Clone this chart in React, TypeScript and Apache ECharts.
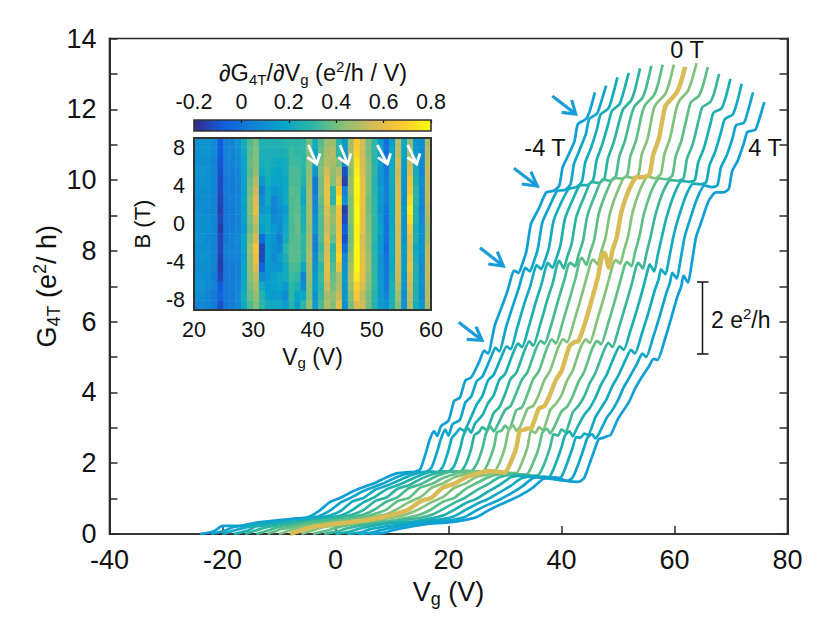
import React, { useEffect, useRef } from "react";
import * as echarts from "echarts";

// Gate voltage of the 0 T trace at each sampled point
const gateVoltage = [-8,-5.5,-4,-1,2,6,9,11,13,15,17,19,21,23,25,27,29,30,31,32,32.6,33.4,34,34.7,36,37,38,39,40,41.4,42.3,43,44.2,45.5,46.5,47.2,47.6,48.4,49,49.8,50.6,52,53.3,54.6,55.6,56.2,57.2,58.3,58.9,60.3,61,61.9];
// Horizontal display shift of each trace
const traceShift = [-16,-14,-12,-10,-8,-6,-4,-2,0,2,4,6,8,10,12,14];
const traceColors = ["#0f9fd4","#0fa4cb","#12aac0","#1cafb0","#2cb4a0","#45ba92","#5fbf87","#82c27c","#d9bc55","#82c27c","#5fbf87","#3db79a","#1cafb0","#12aac0","#0fa4cb","#0f9fd4"];

const g0 = [0,.08,.23,.23,.32,.39,.44,.47,.64,.9,1.03,1.2,1.33,1.44,1.6,1.72,1.75,1.76,1.83,2.3,2.63,2.91,2.77,3.05,3.2,3.76,3.85,4.34,4.42,4.85,5.18,5.1,5.9,6.45,6.9,7.3,7.44,7.38,7.6,8,8.76,9.2,9.65,9.7,9.84,10.36,10.7,11.1,11.58,11.72,11.95,12.48];
const g1 = [0,.1,.2,.25,.33,.38,.44,.5,.66,.9,1.05,1.22,1.34,1.47,1.62,1.72,1.74,1.75,1.88,2.33,2.66,2.95,2.78,3.1,3.22,3.72,3.88,4.32,4.45,4.95,5.26,5.16,5.85,6.5,6.98,7.38,7.52,7.42,7.65,8.05,8.8,9.3,9.7,9.72,9.88,10.45,10.85,11.3,11.72,11.88,12.2,12.67];
const g2 = [0,.12,.18,.27,.31,.4,.46,.52,.66,.92,1.02,1.25,1.36,1.5,1.64,1.74,1.76,1.74,1.9,2.36,2.72,2.86,2.98,2.92,3.3,3.66,3.9,4.34,4.5,5.02,5.3,5.22,5.85,6.55,7.02,7.45,7.6,7.48,7.7,8.1,8.85,9.38,9.75,9.8,9.95,10.5,10.9,11.45,11.85,12.02,12.35,12.9];
const g3 = [0,.1,.22,.25,.34,.38,.47,.52,.68,.9,1.05,1.26,1.38,1.52,1.66,1.76,1.74,1.76,1.92,2.38,2.76,3.0,2.86,3.12,3.36,3.7,3.92,4.36,4.52,5.1,5.38,5.28,5.85,6.58,7.08,7.52,7.66,7.52,7.75,8.15,8.9,9.45,9.85,9.86,10.0,10.55,11.0,11.6,11.95,12.15,12.5,13.03];
const g4 = [0,.13,.2,.26,.33,.41,.47,.55,.68,.93,1.03,1.28,1.38,1.55,1.68,1.77,1.76,1.75,1.95,2.4,2.8,2.88,3.02,2.94,3.42,3.58,3.95,4.38,4.55,5.16,5.44,5.32,5.9,6.62,7.12,7.6,7.72,7.5,7.82,8.2,8.95,9.52,9.95,9.92,10.05,10.6,11.05,11.7,12.0,12.25,12.55,13.16];
const g5 = [0,.12,.2,.25,.35,.4,.49,.55,.7,.91,1.04,1.3,1.4,1.57,1.7,1.78,1.74,1.76,1.98,2.42,2.82,3.04,2.9,3.08,3.5,3.62,3.98,4.36,4.58,5.2,5.46,5.38,5.92,6.65,7.18,7.6,7.66,7.56,7.88,8.28,9.0,9.6,10.02,9.98,10.1,10.65,11.1,11.8,12.08,12.32,12.62,13.23];
const g6 = [0,.14,.18,.28,.32,.42,.48,.57,.69,.93,1.02,1.31,1.41,1.58,1.69,1.79,1.76,1.74,2.0,2.43,2.88,2.92,3.06,2.96,3.5,3.58,3.96,4.38,4.6,5.24,5.5,5.38,5.98,6.68,7.24,7.72,7.8,7.6,7.92,8.32,9.05,9.68,10.06,10.04,10.12,10.68,11.12,11.92,12.14,12.38,12.66,13.26];
const g7 = [0,.13,.2,.26,.33,.39,.5,.56,.71,.9,1.04,1.3,1.43,1.6,1.7,1.77,1.77,1.75,2.0,2.45,2.9,3.08,2.92,3.04,3.54,3.62,3.94,4.36,4.62,5.26,5.5,5.42,6.0,6.7,7.28,7.68,7.75,7.62,7.96,8.38,9.08,9.72,10.1,10.06,10.15,10.72,11.14,12.0,12.18,12.42,12.7,13.26];
const g8 = [0,.14,.2,.27,.32,.4,.5,.58,.7,.92,1.03,1.31,1.42,1.6,1.7,1.78,1.75,1.73,2.02,2.44,2.91,2.95,2.98,3.0,3.55,3.62,3.95,4.35,4.6,5.3,5.42,5.45,5.98,6.7,7.3,7.9,7.95,7.53,8.0,8.4,9.1,9.75,10.08,10.08,10.17,10.7,11.15,12.05,12.2,12.45,12.7,13.2];
const g9 = [0,.13,.2,.25,.31,.41,.49,.58,.72,.9,1.04,1.3,1.43,1.62,1.68,1.76,1.72,1.72,2.02,2.46,2.92,2.86,3.02,2.94,3.5,3.68,3.92,4.34,4.62,5.28,5.5,5.4,5.98,6.68,7.26,7.66,7.74,7.64,7.98,8.42,9.1,9.76,10.1,10.05,10.18,10.72,11.18,12.0,12.25,12.5,12.78,13.3];
const g10 = [0,.1,.17,.27,.32,.38,.47,.55,.7,.91,1.02,1.27,1.44,1.6,1.69,1.72,1.68,1.7,2.02,2.45,2.86,2.98,2.84,3.02,3.46,3.6,3.9,4.3,4.58,5.22,5.46,5.36,5.92,6.62,7.2,7.6,7.68,7.56,7.95,8.42,9.05,9.72,10.05,10.02,10.12,10.66,11.1,11.85,12.2,12.38,12.65,13.19];
const g11 = [0,.08,.16,.25,.3,.39,.46,.54,.7,.88,1.03,1.24,1.41,1.6,1.67,1.68,1.65,1.68,2.0,2.46,2.82,2.78,2.96,2.88,3.44,3.62,3.88,4.26,4.55,5.14,5.4,5.28,5.85,6.55,7.1,7.55,7.66,7.5,7.9,8.42,9.0,9.68,10.0,9.98,10.05,10.6,11.0,11.7,12.05,12.2,12.45,13.0];
const g12 = [0,.07,.14,.24,.31,.36,.44,.52,.68,.87,1.0,1.2,1.38,1.6,1.65,1.62,1.58,1.64,2.0,2.45,2.78,2.9,2.76,2.98,3.36,3.56,3.85,4.22,4.5,5.04,5.3,5.2,5.75,6.42,6.98,7.42,7.62,7.42,7.85,8.42,8.95,9.62,9.98,9.95,10.0,10.5,10.9,11.55,11.9,12.02,12.3,12.86];
const g13 = [0,.05,.13,.22,.29,.36,.42,.5,.68,.85,.99,1.17,1.36,1.58,1.63,1.58,1.55,1.62,2.0,2.45,2.74,2.72,2.84,2.8,3.3,3.56,3.82,4.18,4.46,4.94,5.2,5.1,5.65,6.32,6.88,7.2,7.48,7.34,7.75,8.4,8.88,9.55,9.9,9.88,9.94,10.42,10.8,11.4,11.72,11.85,12.15,12.72];
const g14 = [0,.04,.11,.21,.3,.34,.41,.49,.67,.83,.97,1.14,1.34,1.58,1.62,1.54,1.5,1.6,1.98,2.44,2.72,2.82,2.7,2.86,3.28,3.5,3.78,4.14,4.42,4.82,5.1,5.0,5.55,6.22,6.78,7.1,7.38,7.22,7.68,8.4,8.82,9.48,9.85,9.8,9.85,10.35,10.68,11.2,11.55,11.62,11.95,12.48];
const g15 = [0,.03,.1,.2,.28,.33,.4,.48,.66,.82,.96,1.12,1.32,1.58,1.6,1.5,1.47,1.58,2.0,2.45,2.68,2.72,2.76,2.8,3.25,3.5,3.75,4.1,4.38,4.72,4.95,4.92,5.45,6.15,6.7,7.0,7.3,7.1,7.6,8.38,8.75,9.4,9.65,9.65,9.75,10.25,10.55,11.05,11.36,11.42,11.72,12.2];
const traces = [g0,g1,g2,g3,g4,g5,g6,g7,g9,g10,g11,g12,g13,g14,g15,g8];
const traceIndex = [0,1,2,3,4,5,6,7,9,10,11,12,13,14,15,8];

// Inset: dG/dVg per 1 V column (20..59) for each field row (-8.5 .. 8.5 T)
const heatVg = ["20","21","22","23","24","25","26","27","28","29","30","31","32","33","34","35","36","37","38","39","40","41","42","43","44","45","46","47","48","49","50","51","52","53","54","55","56","57","58","59"];
const heatB = ["-8.5","-7.5","-6.5","-5.5","-4.5","-3.5","-2.5","-1.5","-0.5","0.5","1.5","2.5","3.5","4.5","5.5","6.5","7.5","8.5"];
const heatRows = [
[.06,.08,.06,.03,-.1,.02,.04,.08,.2,.34,.42,.3,.22,.2,.2,.14,.28,.16,.3,.46,.14,.35,.5,.42,.6,.1,.4,.58,.55,.4,.28,.14,.1,.25,.42,.1,.5,.22,.12,.48],
[.1,.1,.06,.02,-.05,.02,.03,.08,.22,.38,.45,.28,.17,.14,.14,.08,.3,.18,.2,.42,.12,.32,.48,.44,.54,.12,.42,.66,.52,.4,.28,.15,.06,.24,.46,.1,.52,.25,.08,.5],
[.12,.12,.08,.05,-.07,.03,.04,.06,.2,.4,.48,.22,.14,.16,.18,.14,.3,.25,.1,.44,.16,.3,.54,.4,.5,.12,.46,.7,.56,.42,.3,.14,.03,.25,.5,.12,.55,.25,.1,.5],
[.1,.1,.08,.03,-.13,.03,.03,.05,.18,.42,.52,.08,.12,.16,.2,.22,.32,.3,.06,.46,.14,.32,.58,.38,.48,.14,.5,.76,.6,.44,.3,.12,.02,.22,.54,.14,.58,.25,.1,.52],
[.08,.1,.1,.05,-.15,.03,.03,.05,.18,.44,.58,-.05,.14,.12,.12,.2,.34,.34,.2,.48,.12,.3,.6,.35,.62,.12,.48,.8,.62,.46,.3,.12,.02,.2,.55,.16,.62,.25,.08,.52],
[.1,.12,.1,.06,-.14,.04,.05,.06,.16,.44,.62,-.12,.16,.07,.14,.25,.36,.36,.28,.5,.08,.35,.58,.32,.7,.08,.45,.8,.6,.46,.28,.12,0,.2,.56,.14,.6,.22,.1,.52],
[.1,.1,.1,.05,-.13,.05,.05,.06,.18,.46,.64,-.13,.15,.1,.07,.28,.36,.36,.3,.48,.04,.32,.56,.3,.68,-.02,.42,.8,.58,.44,.28,.14,-.02,.22,.56,.15,.58,.2,.12,.52],
[.12,.12,.08,.06,-.13,.03,.05,.08,.18,.42,.56,-.02,.15,.12,.04,.22,.35,.36,.3,.48,.05,.35,.58,.38,.64,-.1,.4,.78,.56,.44,.3,.15,0,.2,.56,.12,.6,.25,.1,.48],
[.1,.1,.1,.06,-.15,.03,.04,.06,.14,.38,.5,.15,.2,.14,.09,.2,.34,.38,.26,.46,.12,.35,.54,.42,.62,-.06,.4,.78,.6,.42,.3,.18,0,.2,.56,.12,.66,.22,.1,.46],
[.1,.1,.1,.06,-.13,.03,.03,.05,.16,.4,.54,.18,.2,.09,.1,.18,.34,.38,.24,.48,.1,.35,.55,.45,.62,-.12,.42,.8,.6,.42,.3,.15,0,.18,.58,.1,.72,.25,.08,.48],
[.1,.1,.08,.06,-.14,.03,.03,.06,.16,.42,.6,.12,.16,.06,.1,.15,.35,.36,.24,.48,.07,.36,.58,.42,.64,-.15,.42,.8,.62,.4,.3,.12,.02,.2,.58,.12,.76,.25,.06,.5],
[.08,.1,.1,.05,-.13,.03,.04,.06,.18,.42,.58,.08,.2,.06,.12,.2,.35,.36,.2,.48,.06,.38,.62,.28,.74,.1,.42,.78,.62,.4,.3,.14,.05,.2,.58,.1,.72,.28,.08,.52],
[.1,.1,.1,.06,-.12,.04,.03,.05,.15,.4,.54,.04,.2,.12,.15,.2,.36,.35,.22,.48,.02,.4,.62,.3,.68,.05,.45,.8,.62,.42,.28,.15,.05,.2,.56,.12,.66,.28,.08,.52],
[.1,.12,.1,.06,-.12,.03,.03,.06,.16,.38,.5,.12,.22,.18,.18,.2,.34,.34,.26,.46,.02,.4,.6,.42,.56,-.14,.45,.8,.6,.42,.28,.12,.04,.22,.56,.12,.64,.25,.1,.52],
[.12,.12,.1,.06,-.1,.05,.04,.06,.16,.36,.45,.2,.24,.2,.18,.22,.34,.34,.28,.44,.12,.42,.56,.45,.5,-.1,.42,.76,.58,.42,.3,.12,.02,.22,.54,.14,.58,.22,.06,.52],
[.1,.1,.1,.06,-.09,.05,.05,.08,.18,.38,.42,.24,.24,.22,.2,.22,.32,.32,.3,.42,.16,.4,.5,.48,.4,.08,.45,.74,.56,.42,.28,.15,0,.2,.56,.15,.54,.2,.08,.52],
[.1,.12,.12,.08,-.07,.06,.06,.1,.2,.36,.42,.25,.24,.24,.24,.25,.32,.3,.3,.42,.2,.38,.48,.5,.3,.12,.48,.7,.55,.4,.3,.14,0,.18,.52,.18,.48,.14,.08,.5],
[.1,.12,.12,.08,-.07,.06,.06,.12,.22,.35,.4,.26,.26,.25,.26,.28,.3,.28,.3,.4,.22,.36,.46,.46,.28,.14,.46,.68,.55,.4,.3,.16,0,.15,.5,.2,.44,.12,.1,.48],
];
const parula = ["#352a87","#0f5cdd","#1481d6","#06a4ca","#2eb7a4","#87bf77","#d1bb59","#fec832","#f9fb0e"];

const FONT = "'Liberation Sans', Arial, sans-serif";
const MAIN = 27;
const INSET = 21.5;
const INK = "#111";

function arrow(from: number[], tip: number[], b1: number[], b2: number[], color: string, width: number) {
  const shape = (points: number[][]) => ({
    type: "polyline", z: 20, shape: { points },
    style: { stroke: color, lineWidth: width, fill: "none" },
  });
  return [shape([from, tip]), shape([b1, tip, b2])];
}

function buildOption() {
  const lineSeries = traces.map((vals, k) => {
    const i = traceIndex[k];
    return {
      type: "line", xAxisIndex: 0, yAxisIndex: 0, showSymbol: false, silent: true,
      smooth: 0.2, clip: false, z: i === 8 ? 4 : 3,
      lineStyle: { color: traceColors[i], width: i === 8 ? 4.5 : 2.7, join: "round" },
      data: vals.map((g, j) => [gateVoltage[j] + traceShift[i], g]),
    };
  });
  const heatData: number[][] = [];
  heatRows.forEach((row, r) => row.forEach((v, c) => heatData.push([c, r, v])));
  const textStyle = (text: string, x: number, y: number, size = 23.5) => ({
    type: "text", x, y, z: 20,
    style: { text, fontFamily: FONT, fontSize: size, fill: INK, align: "center", verticalAlign: "middle" },
  });
  const subRich = (size: number, sub: number, lh: number) => ({
    m: { fontFamily: FONT, fontSize: size, lineHeight: lh, fill: INK, color: INK },
    s: { fontFamily: FONT, fontSize: sub, lineHeight: sub, verticalAlign: "bottom", fill: INK, color: INK },
    u: { fontFamily: FONT, fontSize: sub, lineHeight: sub, verticalAlign: "top", fill: INK, color: INK },
  });
  const frameLine = { color: "#2a2a2a", width: 2 };
  const frameTick = { color: "#2a2a2a", width: 1.5 };
  return {
    animation: false,
    backgroundColor: "#fff",
    grid: [
      { left: 109.5, top: 38.5, width: 678, height: 495.5, show: true, borderColor: "#2a2a2a", borderWidth: 1.6, backgroundColor: "transparent" },
      { left: 194, top: 138, width: 237, height: 172 },
      { left: 194, top: 120, width: 237, height: 11 },
    ],
    xAxis: [
      {
        type: "value", gridIndex: 0, min: -40, max: 80, interval: 20, name: "{m|V}{s|g}{m| (V)}",
        nameLocation: "middle", nameGap: 42, nameMoveOverlap: false, nameTextStyle: { rich: subRich(27, 18, 32) },
        axisLine: { onZero: false, lineStyle: { color: "#2a2a2a", width: 1.6 } },
        axisTick: { inside: true, length: 8, lineStyle: frameTick },
        axisLabel: { fontFamily: FONT, fontSize: MAIN, color: INK, margin: 12 }, splitLine: { show: false },
      },
      { type: "category", gridIndex: 1, data: heatVg, show: false, position: "top" },
      {
        type: "value", gridIndex: 1, min: 20, max: 60, interval: 10, position: "bottom", name: "{m|V}{s|g}{m| (V)}",
        nameLocation: "middle", nameGap: 33, nameMoveOverlap: false, nameTextStyle: { rich: subRich(23, 15, 27) },
        axisLine: { show: false, onZero: false }, axisTick: { show: false },
        axisLabel: { fontFamily: FONT, fontSize: INSET, color: INK, margin: 9 }, splitLine: { show: false },
      },
      {
        type: "value", gridIndex: 2, min: -0.2, max: 0.8, interval: 0.2, position: "top", z: 6,
        axisLine: { show: false, onZero: false },
        axisTick: { inside: true, length: 3, lineStyle: { color: INK, width: 1.2 } },
        axisLabel: { fontFamily: FONT, fontSize: INSET, color: INK, margin: 7, formatter: (v: number) => String(Math.round(v * 10) / 10) },
        splitLine: { show: false },
      },
    ],
    yAxis: [
      {
        type: "value", gridIndex: 0, min: 0, max: 14, interval: 2, name: "{m|G}{s|4T}{m| (e}{u|2}{m|/ h)}",
        nameLocation: "middle", nameGap: 47, nameMoveOverlap: false, nameRotate: 90, nameTextStyle: { rich: subRich(27, 18, 32) },
        axisLine: { onZero: false, lineStyle: frameLine },
        axisTick: { inside: true, length: 8, lineStyle: frameTick },
        minorTick: { show: true, splitNumber: 2, length: 8, lineStyle: frameTick },
        axisLabel: { fontFamily: FONT, fontSize: MAIN, color: INK, margin: 13 }, splitLine: { show: false },
      },
      { type: "category", gridIndex: 1, data: heatB, show: false, position: "right" },
      {
        type: "value", gridIndex: 1, min: -9, max: 9, position: "left", name: "B (T)",
        nameLocation: "middle", nameGap: 41, nameMoveOverlap: false, nameRotate: 90,
        nameTextStyle: { fontFamily: FONT, fontSize: 22, color: INK },
        axisLine: { show: false, onZero: false },
        axisTick: { show: false, customValues: [-8, -4, 0, 4, 8] },
        axisLabel: { fontFamily: FONT, fontSize: INSET, color: INK, margin: 9, customValues: [-8, -4, 0, 4, 8] },
        splitLine: { show: false },
      },
      { type: "value", gridIndex: 2, min: 0, max: 1, show: false },
      {
        type: "value", gridIndex: 0, min: 0, max: 14, interval: 2, position: "right",
        axisLine: { onZero: false, lineStyle: frameLine },
        axisTick: { inside: true, length: 8, lineStyle: frameTick },
        minorTick: { show: true, splitNumber: 2, length: 8, lineStyle: frameTick },
        axisLabel: { show: false }, splitLine: { show: false },
      },
    ],
    visualMap: {
      type: "continuous", min: -0.2, max: 0.8, seriesIndex: 16, show: true, orient: "horizontal",
      left: 194, top: 120, itemWidth: 11, itemHeight: 237, padding: 0, calculable: false, showLabel: false,
      text: ["", ""], realtime: false, hoverLink: false,
      inRange: { color: parula },
    },
    series: [
      ...lineSeries,
      {
        type: "heatmap", xAxisIndex: 1, yAxisIndex: 1, data: heatData, silent: true, progressive: 0,
        itemStyle: { borderWidth: 0 }, emphasis: { disabled: true },
      },
    ],
    graphic: [
      { type: "rect", z: 20, shape: { x: 194, y: 138, width: 237, height: 172 }, style: { fill: "none", stroke: "#333", lineWidth: 2 } },
      { type: "rect", z: 20, shape: { x: 194, y: 120, width: 237, height: 11 }, style: { fill: "none", stroke: "#333", lineWidth: 1.6 } },
      {
        type: "text", x: 313, y: 73, z: 20,
        style: {
          text: "{m|∂G}{s|4T}{m|/∂V}{s|g}{m| (e}{u|2}{m|/h / V)}",
          align: "center", verticalAlign: "middle", rich: subRich(23.5, 15, 28),
        },
      },
      textStyle("0 T", 687, 50),
      textStyle("-4 T", 545, 148),
      textStyle("4 T", 765, 148),
      {
        type: "text", x: 711, y: 320, z: 20,
        style: { text: "{m|2 e}{u|2}{m|/h}", align: "left", verticalAlign: "middle", rich: subRich(23, 15, 28) },
      },
      { type: "line", z: 20, shape: { x1: 702.5, y1: 282, x2: 702.5, y2: 354 }, style: { stroke: INK, lineWidth: 1.5 } },
      { type: "line", z: 20, shape: { x1: 697, y1: 282, x2: 708.5, y2: 282 }, style: { stroke: INK, lineWidth: 1.5 } },
      { type: "line", z: 20, shape: { x1: 697, y1: 354, x2: 708.5, y2: 354 }, style: { stroke: INK, lineWidth: 1.5 } },
      ...arrow([552.3, 96], [575.7, 114], [571.7, 100], [561.7, 112.3], "#1a9cd8", 3.2),
      ...arrow([514, 168.3], [537.3, 186], [530.9, 171.7], [521.7, 184], "#1a9cd8", 3.2),
      ...arrow([480, 247.7], [503.3, 266], [497.3, 251.7], [488.3, 264], "#1a9cd8", 3.2),
      ...arrow([458.7, 322.3], [482, 340.3], [476, 326.7], [466.7, 339.3], "#1a9cd8", 3.2),
      ...arrow([308.3, 145], [316.7, 164], [320, 153.3], [307.3, 157.3], "#ffffff", 2.8),
      ...arrow([340, 145], [347.7, 164], [351, 153.3], [338.3, 157.3], "#ffffff", 2.8),
      ...arrow([377.3, 145], [387.3, 164], [390.6, 153.3], [377.9, 157.3], "#ffffff", 2.8),
      ...arrow([407.7, 145], [416.7, 164], [420, 153.3], [407.3, 157.3], "#ffffff", 2.8),
    ],
  };
}

export default function App() {
  const ref = useRef<HTMLDivElement>(null);
  useEffect(() => {
    const chart = echarts.init(ref.current!, undefined, { renderer: "svg" });
    chart.setOption(buildOption() as any);
    return () => chart.dispose();
  }, []);
  return <div ref={ref} style={{ position: "fixed", left: 0, top: 0, width: 830, height: 640 }} />;
}
